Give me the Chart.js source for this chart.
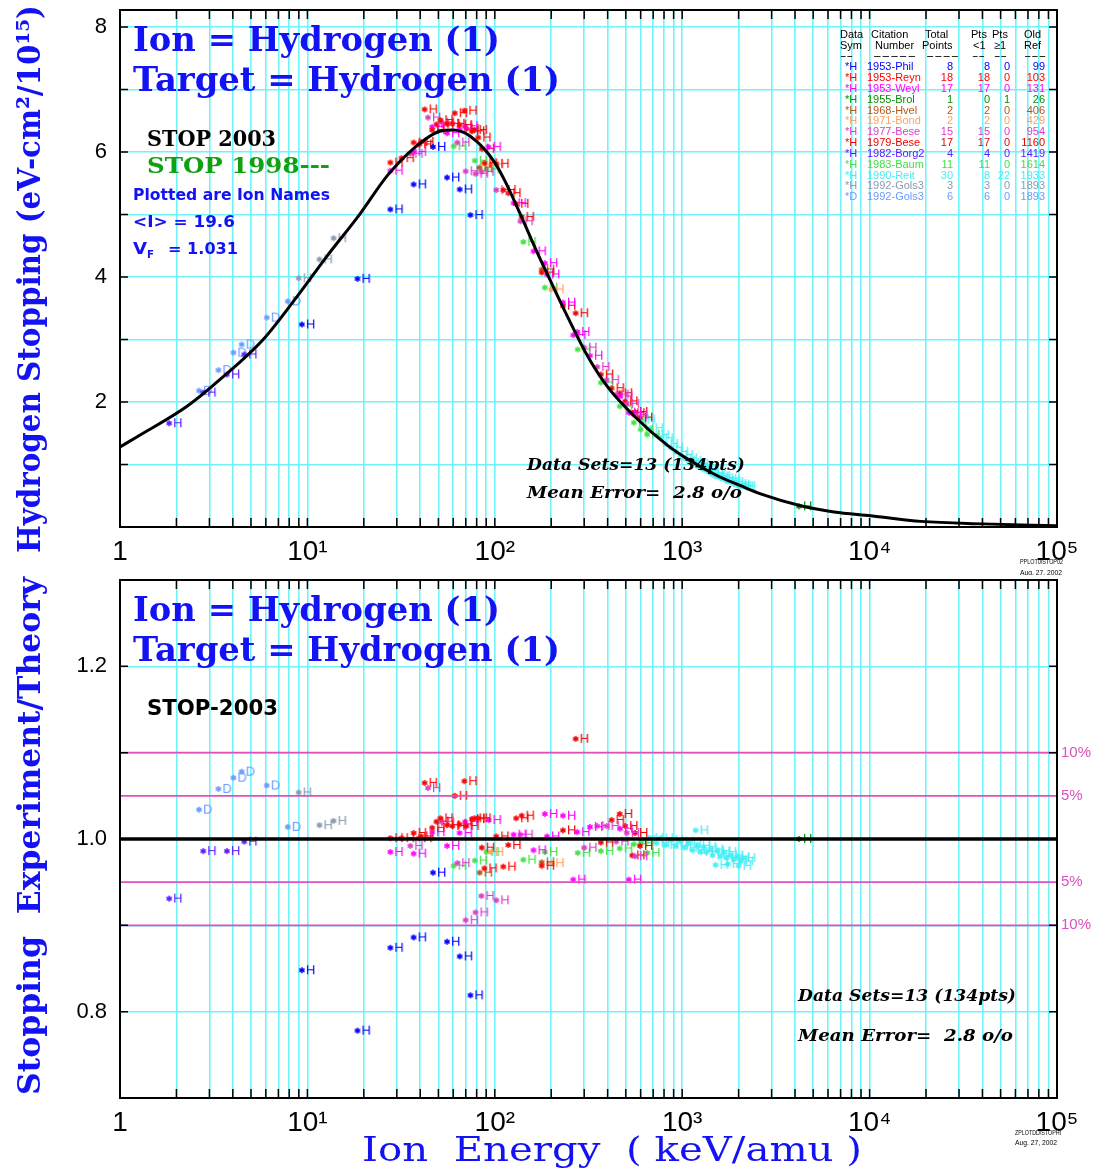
<!DOCTYPE html>
<html>
<head>
<meta charset="utf-8">
<script src="https://cdn.jsdelivr.net/npm/chart.js@4.4.1/dist/chart.umd.min.js"></script>
<style>
  body { margin: 0; background: #fff; width: 1093px; height: 1169px; position: relative; overflow: hidden; }
  canvas { position: absolute; left: 0; }
  #stopChart { top: 0; }
  #ratioChart { top: 575px; }
</style>
</head>
<body>
<canvas id="stopChart" width="1093" height="575"></canvas>
<canvas id="ratioChart" width="1093" height="594"></canvas>
<script>
// energy axis (keV/amu)
const decades = [1, 10, 100, 1000, 10000, 100000];
const decadeLabels = ['1', '10\u00b9', '10\u00b2', '10\u00b3', '10\u2074', '10\u2075'];

// STOP 2003 theory curve
const curveE = [1, 1.23, 2.28, 3.42, 5.81, 8.82, 12.7, 19.1, 26.7, 36.7, 51, 60, 74, 100, 117, 137, 169, 198, 244, 312, 398, 552, 832, 1065, 1540, 2050, 2620, 4290, 6460, 10150, 18800, 40000, 100000];
const curveS = [1.28, 1.44, 1.93, 2.36, 3.00, 3.69, 4.33, 5.01, 5.62, 6.05, 6.33, 6.35, 6.25, 5.83, 5.45, 5.00, 4.38, 3.94, 3.37, 2.74, 2.25, 1.78, 1.31, 1.09, 0.82, 0.66, 0.53, 0.34, 0.24, 0.18, 0.09, 0.05, 0.02];

// measured sets: energy, stopping, experiment/theory
const phil1953E = [9.35, 18.5, 27.7, 36.9, 46.8, 55.6, 65, 74.1];
const phil1953S = [3.24, 3.97, 5.08, 5.48, 6.08, 5.59, 5.40, 4.99];
const phil1953R = [0.848, 0.778, 0.874, 0.886, 0.961, 0.881, 0.864, 0.819];

const reyn1953E = [27.7, 31.8, 36.9, 42.2, 46.3, 51.2, 55.6, 61.1, 64.9, 68.8, 75.5, 81.6, 88, 101.8, 111, 130, 139, 178];
const reyn1953S = [5.83, 5.90, 6.15, 6.68, 6.35, 6.51, 6.45, 6.62, 6.43, 6.66, 6.33, 6.23, 5.82, 5.81, 5.39, 5.17, 4.96, 4.07];
const reyn1953R = [1.001, 1.001, 1.007, 1.065, 1.013, 1.024, 1.016, 1.050, 1.017, 1.067, 1.023, 1.024, 0.966, 1.003, 0.968, 1.024, 1.027, 0.969];

const weyl1953E = [27.7, 36.9, 46.3, 55.6, 64.9, 69.5, 92.6, 126, 161, 185, 190, 231, 262, 275, 322, 466, 519];
const weyl1953S = [5.70, 6.00, 6.40, 6.30, 6.36, 6.41, 6.08, 5.18, 4.41, 4.22, 4.04, 3.59, 3.07, 3.12, 2.74, 2.09, 1.83];
const weyl1953R = [0.985, 0.983, 1.008, 0.992, 1.007, 1.020, 1.022, 1.005, 0.987, 1.029, 1.003, 1.027, 0.953, 1.008, 1.014, 1.012, 0.953];

const brol1955E = [4200];
const brol1955S = [0.33];
const brol1955R = [1.000];

const hvel1968E = [83, 178];
const hvel1968S = [5.75, 4.12];
const hvel1968R = [0.961, 0.973];

const bond1971E = [95, 200];
const bond1971S = [5.80, 3.80];
const bond1971R = [0.985, 0.972];

const bese1977E = [35.4, 44, 52, 63, 69.9, 78.9, 84.8, 101.8, 137, 300, 352, 395, 445, 506, 560];
const bese1977S = [5.97, 6.55, 6.47, 6.15, 5.69, 5.65, 5.68, 5.39, 4.89, 2.87, 2.56, 2.35, 2.12, 1.97, 1.79];
const bese1977R = [0.992, 1.059, 1.020, 0.972, 0.906, 0.915, 0.934, 0.929, 1.005, 0.990, 1.015, 1.015, 0.997, 1.007, 0.980];

const bese1979E = [39.5, 40.5, 48.8, 59.3, 70.5, 78, 85.2, 118, 231, 270, 368, 420, 464, 496, 541, 560, 595];
const bese1979S = [6.12, 6.16, 6.44, 6.45, 6.37, 6.35, 6.05, 5.34, 3.54, 3.42, 2.44, 2.22, 2.14, 2.01, 1.82, 1.84, 1.75];
const bese1979R = [1.001, 1.003, 1.020, 1.015, 1.015, 1.024, 0.990, 0.993, 1.010, 1.116, 0.996, 1.022, 1.029, 1.015, 0.981, 1.007, 0.992];

const borg1982E = [1.83, 2.78, 3.72, 4.6];
const borg1982S = [1.66, 2.15, 2.44, 2.76];
const borg1982R = [0.931, 0.986, 0.986, 0.997];

const baum1983E = [60.3, 78.2, 90.3, 142, 185, 277, 368, 464, 552, 600, 650];
const baum1983S = [6.09, 5.86, 5.72, 4.56, 3.83, 2.84, 2.31, 1.93, 1.67, 1.56, 1.48];
const baum1983R = [0.969, 0.975, 0.985, 0.976, 0.985, 0.984, 0.986, 0.989, 0.994, 0.995, 0.984];

const reit1990E = [614, 678, 730, 767, 815, 867, 922, 980, 1030, 1082, 1137, 1180, 1210, 1255, 1300, 1350, 1418, 1453, 1507, 1545, 1603, 1664, 1727, 1749, 1814, 1883, 1954, 2000, 2051, 2103];
const reit1990S = [1.72, 1.58, 1.47, 1.42, 1.33, 1.27, 1.20, 1.15, 1.10, 1.06, 1.02, 1.01, 0.97, 0.95, 0.92, 0.90, 0.86, 0.84, 0.81, 0.81, 0.78, 0.77, 0.74, 0.73, 0.72, 0.69, 0.68, 0.66, 0.65, 0.65];
const reit1990R = [0.999, 1.001, 0.995, 1.001, 0.993, 0.999, 0.992, 0.997, 0.990, 0.995, 0.987, 1.010, 0.992, 0.985, 0.991, 0.985, 0.988, 0.981, 0.970, 0.986, 0.980, 0.985, 0.978, 0.971, 0.981, 0.976, 0.979, 0.969, 0.974, 0.978];

const golsHE = [8.98, 11.6, 13.8];
const golsHS = [3.98, 4.28, 4.62];
const golsHR = [1.054, 1.016, 1.021];

const golsDE = [2.64, 3.35, 4.03, 4.46, 6.07, 7.86];
const golsDS = [2.18, 2.51, 2.79, 2.92, 3.35, 3.61];
const golsDR = [1.034, 1.058, 1.071, 1.078, 1.062, 1.014];

// citation table
const citations = ['1953-Phil', '1953-Reyn', '1953-Weyl', '1955-Brol', '1968-Hvel', '1971-Bond', '1977-Bese', '1979-Bese', '1982-Borg2', '1983-Baum', '1990-Reit', '1992-Gols3', '1992-Gols3'];
const symbols = ['*H', '*H', '*H', '*H', '*H', '*H', '*H', '*H', '*H', '*H', '*H', '*H', '*D'];
const totalPoints = [8, 18, 17, 1, 2, 2, 15, 17, 4, 11, 30, 3, 6];
const ptsBelow1 = [8, 18, 17, 0, 2, 2, 15, 17, 4, 11, 8, 3, 6];
const ptsAbove1 = [0, 0, 0, 1, 0, 0, 0, 0, 0, 0, 22, 0, 0];
const oldRefs = [99, 103, 131, 26, 406, 429, 954, 1160, 1419, 1614, 1933, 1893, 1893];
const setColors = ['#0000ff', '#ff0000', '#ff00ff', '#009000', '#b0581c', '#ffa060', '#dc3cc8', '#f00000', '#5a1cff', '#44e044', '#44eef6', '#8a9ab0', '#6a9aff'];

const energies = [phil1953E, reyn1953E, weyl1953E, brol1955E, hvel1968E, bond1971E, bese1977E, bese1979E, borg1982E, baum1983E, reit1990E, golsHE, golsDE];
const stoppings = [phil1953S, reyn1953S, weyl1953S, brol1955S, hvel1968S, bond1971S, bese1977S, bese1979S, borg1982S, baum1983S, reit1990S, golsHS, golsDS];
const ratios = [phil1953R, reyn1953R, weyl1953R, brol1955R, hvel1968R, bond1971R, bese1977R, bese1979R, borg1982R, baum1983R, reit1990R, golsHR, golsDR];

// deviation bands on the ratio plot
const bandLevels = [1.1, 1.05, 0.95, 0.9];
const bandLabels = ['10%', '5%', '5%', '10%'];

const BLUE = '#1212f4';
const MAGENTA = '#dc50c0';
const GRID = 'rgb(110, 244, 250)';

// "*H" marker: asterisk centred on the point, ion name to the right
function makeMarker(color, sym) {
  const c = document.createElement('canvas');
  c.width = 36; c.height = 16;
  const g = c.getContext('2d');
  g.strokeStyle = color; g.fillStyle = color; g.lineWidth = 1.5;
  const cx = 18, cy = 8, r = 3;
  for (let k = 0; k < 3; k++) {
    const a = Math.PI / 2 + k * Math.PI / 3;
    g.beginPath();
    g.moveTo(cx - r * Math.cos(a), cy - r * Math.sin(a));
    g.lineTo(cx + r * Math.cos(a), cy + r * Math.sin(a));
    g.stroke();
  }
  g.font = '13px "Liberation Sans"';
  g.textBaseline = 'middle';
  g.fillText(sym.slice(1), cx + 4, cy + 0.5);
  return c;
}

const markers = setColors.map((c, i) => makeMarker(c, symbols[i]));

function pointSets(values) {
  return citations.map((name, i) => ({
    label: name,
    data: energies[i].map((e, j) => ({ x: e, y: values[i][j] })),
    pointStyle: markers[i],
    pointRadius: 3,
    showLine: false
  }));
}

function xTicks() {
  const t = [];
  decades.forEach(d => {
    for (let m = 1; m <= 9; m++) {
      if (d * m <= 100000) t.push({ value: d * m });
    }
  });
  return t;
}

function drawFit(ctx, text, x, y, width, font, color, align) {
  ctx.save();
  ctx.font = font;
  ctx.fillStyle = color;
  ctx.textBaseline = 'middle';
  ctx.textAlign = align || 'left';
  const w = ctx.measureText(text).width;
  ctx.translate(x, y);
  if (width) ctx.scale(width / w, 1);
  ctx.fillText(text, 0, 0);
  ctx.restore();
}

function drawVertical(ctx, text, x, yCenter, len, font) {
  ctx.save();
  ctx.translate(x, yCenter);
  ctx.rotate(-Math.PI / 2);
  drawFit(ctx, text, 0, 0, len, font, BLUE, 'center');
  ctx.restore();
}

// frame with inward ticks on all four sides
const framePlugin = {
  id: 'frame',
  afterDatasetsDraw(chart) {
    const { ctx, chartArea: a, scales } = chart;
    ctx.save();
    ctx.strokeStyle = '#000';
    ctx.lineWidth = 1.5;
    ctx.beginPath();
    scales.x.ticks.forEach(t => {
      const px = scales.x.getPixelForValue(t.value);
      ctx.moveTo(px, a.bottom); ctx.lineTo(px, a.bottom - 9);
      ctx.moveTo(px, a.top); ctx.lineTo(px, a.top + 9);
    });
    scales.y.ticks.forEach(t => {
      const py = scales.y.getPixelForValue(t.value);
      ctx.moveTo(a.left, py); ctx.lineTo(a.left + 8, py);
      ctx.moveTo(a.right, py); ctx.lineTo(a.right - 8, py);
    });
    ctx.stroke();
    ctx.lineWidth = 2;
    ctx.strokeRect(a.left, a.top, a.right - a.left, a.bottom - a.top);
    ctx.restore();
  }
};

function headerText(ctx, dy) {
  drawFit(ctx, 'Ion = Hydrogen (1)', 133, 42 + dy, 367, 'bold 34px "DejaVu Serif"', BLUE);
  drawFit(ctx, 'Target = Hydrogen (1)', 133, 82 + dy, 427, 'bold 34px "DejaVu Serif"', BLUE);
}

const stopText = {
  id: 'stopText',
  afterDraw(chart) {
    const ctx = chart.ctx;
    headerText(ctx, 0);
    drawFit(ctx, 'STOP 2003', 147, 140, 129, 'bold 23px "DejaVu Serif"', '#000');
    drawFit(ctx, 'STOP 1998---', 147, 167, 183, 'bold 23px "DejaVu Serif"', '#10a010');
    drawFit(ctx, 'Plotted are Ion Names', 133, 196, 197, 'bold 15px "DejaVu Sans"', BLUE);
    drawFit(ctx, '<I> = 19.6', 133, 223, 102, 'bold 16px "DejaVu Sans"', BLUE);
    drawFit(ctx, 'V', 133, 250, 14, 'bold 16px "DejaVu Sans"', BLUE);
    drawFit(ctx, 'F', 147, 255, 7, 'bold 10px "DejaVu Sans"', BLUE);
    drawFit(ctx, '= 1.031', 168, 250, 70, 'bold 16px "DejaVu Sans"', BLUE);
    drawFit(ctx, 'Data Sets=13 (134pts)', 527, 466, 218, 'bold italic 16px "DejaVu Serif"', '#000');
    drawFit(ctx, 'Mean Error=  2.8 o/o', 527, 494, 215, 'bold italic 16px "DejaVu Serif"', '#000');
    drawFit(ctx, 'PPLOT0/STOP02', 1020, 562, 43, '7px "Liberation Sans"', '#000');
    drawFit(ctx, 'Aug. 27, 2002', 1020, 573, 42, '7px "Liberation Sans"', '#000');
    drawVertical(ctx, 'Hydrogen Stopping (eV-cm\u00b2/10\u00b9\u2075)', 32, 279, 548, 'bold 31px "DejaVu Serif"');

    // citation table
    const f = '11px "Liberation Sans"';
    drawFit(ctx, 'Data', 840, 35, 0, f, '#000');
    drawFit(ctx, 'Sym', 840, 46, 0, f, '#000');
    drawFit(ctx, 'Citation', 871, 35, 0, f, '#000');
    drawFit(ctx, 'Number', 875, 46, 0, f, '#000');
    drawFit(ctx, 'Total', 925, 35, 0, f, '#000');
    drawFit(ctx, 'Points', 922, 46, 0, f, '#000');
    drawFit(ctx, 'Pts', 971, 35, 0, f, '#000');
    drawFit(ctx, '<1', 973, 46, 0, f, '#000');
    drawFit(ctx, 'Pts', 992, 35, 0, f, '#000');
    drawFit(ctx, '\u22651', 994, 46, 0, f, '#000');
    drawFit(ctx, 'Old', 1024, 35, 0, f, '#000');
    drawFit(ctx, 'Ref', 1024, 46, 0, f, '#000');
    [[840, 13, '--'], [873, 43, '-----'], [926, 33, '----'], [972, 13, '--'], [994, 13, '--'], [1024, 22, '---']]
      .forEach(d => drawFit(ctx, d[2], d[0], 56, d[1], f, '#000'));
    citations.forEach((name, i) => {
      const y = 67.3 + i * 10.83;
      const c = setColors[i];
      drawFit(ctx, symbols[i], 845, y, 0, f, c);
      drawFit(ctx, name, 867, y, 0, f, c);
      drawFit(ctx, String(totalPoints[i]), 953, y, 0, f, c, 'right');
      drawFit(ctx, String(ptsBelow1[i]), 990, y, 0, f, c, 'right');
      drawFit(ctx, String(ptsAbove1[i]), 1010, y, 0, f, c, 'right');
      drawFit(ctx, String(oldRefs[i]), 1045, y, 0, f, c, 'right');
    });
  }
};

const ratioText = {
  id: 'ratioText',
  afterDraw(chart) {
    const ctx = chart.ctx;
    const y = chart.scales.y;
    headerText(ctx, -5);
    drawFit(ctx, 'STOP-2003', 147, 135, 131, 'bold 21px "DejaVu Sans"', '#000');
    drawFit(ctx, 'Data Sets=13 (134pts)', 798, 422, 218, 'bold italic 16px "DejaVu Serif"', '#000');
    drawFit(ctx, 'Mean Error=  2.8 o/o', 798, 462, 215, 'bold italic 16px "DejaVu Serif"', '#000');
    bandLevels.forEach((v, i) => {
      drawFit(ctx, bandLabels[i], 1061, y.getPixelForValue(v), 0, '15px "Liberation Sans"', MAGENTA);
    });
    drawFit(ctx, 'ZPLOTDD/STOPHI', 1015, 558, 46, '7px "Liberation Sans"', '#000');
    drawFit(ctx, 'Aug. 27, 2002', 1015, 568, 42, '7px "Liberation Sans"', '#000');
    drawVertical(ctx, 'Stopping  Experiment/Theory', 32, 261, 518, 'bold 31px "DejaVu Serif"');
    drawFit(ctx, 'Ion  Energy  ( keV/amu )', 612, 577, 500, '34px "DejaVu Serif"', BLUE, 'center');
  }
};

function xScale(height) {
  return {
    type: 'logarithmic',
    min: 1,
    max: 100000,
    afterBuildTicks: s => { s.ticks = xTicks(); },
    afterFit: s => { s.height = height; s.paddingLeft = 0; s.paddingRight = 0; },
    grid: { color: GRID, lineWidth: 1.6, drawTicks: false },
    border: { display: false },
    ticks: {
      autoSkip: false,
      maxRotation: 0,
      padding: 8,
      color: '#000',
      font: { family: 'Liberation Sans', size: 28 },
      callback: v => {
        const i = decades.indexOf(v);
        return i >= 0 ? decadeLabels[i] : '';
      }
    }
  };
}

function yFit(s) {
  s.width = 120;
  s.paddingTop = 0;
  s.paddingBottom = 0;
}

new Chart(document.getElementById('stopChart'), {
  type: 'scatter',
  data: {
    datasets: [{
      label: 'STOP 2003',
      data: curveE.map((e, i) => ({ x: e, y: curveS[i] })),
      showLine: true,
      borderColor: '#000',
      borderWidth: 3,
      pointRadius: 0,
      cubicInterpolationMode: 'monotone'
    }].concat(pointSets(stoppings))
  },
  options: {
    responsive: false,
    animation: false,
    events: [],
    layout: { padding: { top: 10, right: 36, left: 0, bottom: 0 } },
    plugins: { legend: { display: false }, tooltip: { enabled: false } },
    scales: {
      x: xScale(48),
      y: {
        min: 0,
        max: 8.27,
        afterFit: yFit,
        grid: { color: GRID, lineWidth: 1.6, drawTicks: false },
        border: { display: false },
        ticks: {
          stepSize: 1,
          includeBounds: false,
          padding: 13,
          color: '#000',
          font: { family: 'Liberation Sans', size: 22 },
          callback: v => (v > 0 && v % 2 === 0 ? String(v) : '')
        }
      }
    }
  },
  plugins: [framePlugin, stopText]
});

new Chart(document.getElementById('ratioChart'), {
  type: 'scatter',
  data: {
    datasets: [{
      label: 'STOP-2003',
      data: [{ x: 1, y: 1 }, { x: 100000, y: 1 }],
      showLine: true,
      borderColor: '#000',
      borderWidth: 3.5,
      pointRadius: 0
    }].concat(bandLevels.map(v => ({
      label: 'band',
      data: [{ x: 1, y: v }, { x: 100000, y: v }],
      showLine: true,
      borderColor: MAGENTA,
      borderWidth: 1.8,
      pointRadius: 0
    }))).concat(pointSets(ratios))
  },
  options: {
    responsive: false,
    animation: false,
    events: [],
    layout: { padding: { top: 4, right: 36, left: 0, bottom: 0 } },
    plugins: { legend: { display: false }, tooltip: { enabled: false } },
    scales: {
      x: xScale(71),
      y: {
        min: 0.7,
        max: 1.3,
        afterFit: yFit,
        grid: { color: GRID, lineWidth: 1.6, drawTicks: false },
        border: { display: false },
        ticks: {
          stepSize: 0.1,
          includeBounds: false,
          padding: 13,
          color: '#000',
          font: { family: 'Liberation Sans', size: 22 },
          callback: v => (Math.round(v * 10) % 2 === 0 ? v.toFixed(1) : '')
        }
      }
    }
  },
  plugins: [framePlugin, ratioText]
});
</script>
</body>
</html>
